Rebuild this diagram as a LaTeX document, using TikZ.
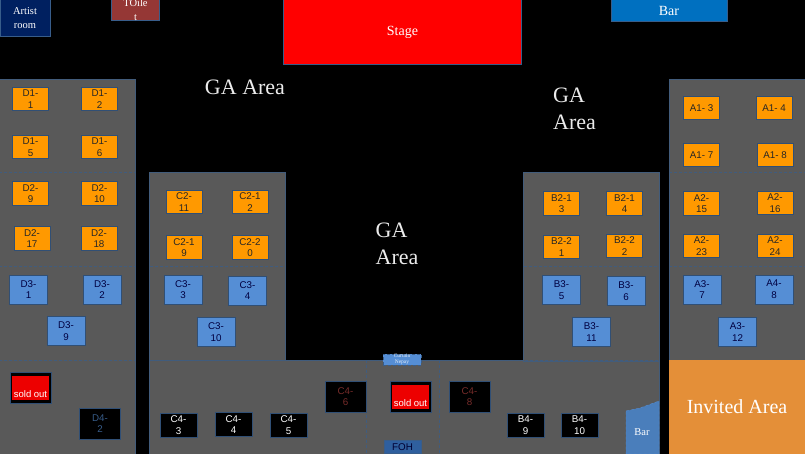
\documentclass[tikz,border=0pt]{standalone}
\usepackage{fontspec}
\setmainfont{Liberation Serif}
\setsansfont{Liberation Sans}
\definecolor{zonegray}{HTML}{595959}
\definecolor{tileedge}{HTML}{385D8A}
\definecolor{tileorange}{HTML}{FF9900}
\definecolor{tileblue}{HTML}{558ED5}
\definecolor{artistblue}{HTML}{002060}
\definecolor{toiletred}{HTML}{953735}
\definecolor{barblue}{HTML}{0070C0}
\definecolor{fohblue}{HTML}{2F5F9E}
\definecolor{invitedorange}{HTML}{E48F38}
\definecolor{lowbarblue}{HTML}{4A7EBB}
\newcommand{\soldlabel}{\raisebox{-9pt}[0pt][0pt]{sold out}}
\tikzset{
  zone/.style={draw=tileedge!70!zonegray, line width=0.4pt, fill=zonegray},
  zoneline/.style={draw=tileedge!75!zonegray, densely dashed, line width=0.5pt},
  tile/.style={draw=tileedge!85!black, line width=0.6pt, align=center, inner sep=0pt,
               font=\sffamily\fontsize{9.8}{11.7}\selectfont},
  orangetile/.style={tile, fill=tileorange, minimum width=36pt, minimum height=23.5pt, text=black!85},
  bluetile/.style={tile, fill=tileblue, minimum width=38pt, minimum height=29pt, text=black!75!blue},
  blacktile/.style={tile, fill=black, minimum width=37pt, minimum height=24pt, text=white},
  dimtile/.style={tile, fill=black, minimum width=41pt, minimum height=31pt},
  soldtile/.style={tile, fill=black, minimum width=41pt, minimum height=31pt},
  soldfill/.style={fill=red!93!black, minimum width=37pt, minimum height=24pt, inner sep=0pt,
                   text=white, font=\sffamily\fontsize{9.5}{11.7}\selectfont, align=center},
  room/.style={draw=tileedge, line width=1pt, align=center, inner sep=0pt, text=white,
               font=\fontsize{10.5}{14}\selectfont},
  areatext/.style={text=white!92!black, align=left, inner sep=0pt, font=\fontsize{22}{27}\selectfont},
}
\begin{document}
\begin{tikzpicture}[x=1pt, y=-1pt]
\useasboundingbox (0,0) rectangle (805,454);
\fill[black] (0,0) rectangle (805,454);

% seating blocks
\draw[zone] (-1,79) rectangle (135.5,455);
\draw[zone] (149.5,172.5) rectangle (285,361);
\draw[zone] (149.5,360) rectangle (659,455);
\draw[zone] (523.5,172.5) rectangle (659,361);
\draw[zone] (669,79) rectangle (806,361);
\foreach \xa/\xb/\ya in {-1/135.5/172.5, -1/135.5/266, 149.5/285/266, 523.5/659/266,
                         669/806/172.5, 669/806/266, -1/135.5/360, 149.5/659/360}
  \draw[zoneline] (\xa,\ya) -- (\xb,\ya);
\draw[zoneline] (366,360) -- (366,454);
\draw[zoneline] (439,360) -- (439,454);

% rooms along the top
\node[room, fill=artistblue, minimum width=50pt, minimum height=37pt] (artist) at (25,18.5) {Artist\\room};
\node[room, fill=toiletred, minimum width=48pt, minimum height=20pt] (toilet) at (135.5,10) {TOile\\t};
\node[room, fill=red, minimum width=238pt, minimum height=65pt, font=\fontsize{14}{16}\selectfont] (stage) at (402.5,32.5) {\raisebox{-2pt}{Stage}};
\node[room, fill=barblue, minimum width=116pt, minimum height=22pt, font=\fontsize{14}{16}\selectfont] (bar) at (669,11) {Bar};

\node[areatext] (gatop) at (245,87) {GA Area};
\node[areatext] (garight) at (574.5,108.5) {GA\\Area};
\node[areatext] (gamid) at (397,244) {GA\\Area};

% orange tables
\foreach \id/\xa/\ya/\lab in {d11/30.5/99/D1-\\1, d12/99.5/99/D1-\\2, d15/30.5/147/D1-\\5, d16/99.5/147/D1-\\6,
    d29/30.5/193.5/D2-\\9, d210/99.5/193.5/D2-\\10, d217/32/238.5/D2-\\17, d218/99/238.5/D2-\\18,
    c211/184/202/C2-\\11, c212/250/202/C2-1\\2, c219/184/247.5/C2-1\\9, c220/250/247.5/C2-2\\0,
    b213/561.5/203.5/B2-1\\3, b214/624.5/203.5/B2-1\\4, b221/561.5/247/B2-2\\1, b222/624.5/246/B2-2\\2,
    a215/701.5/203.5/A2-\\15, a216/775/203/A2-\\16, a223/701.5/246/A2-\\23, a224/775/246/A2-\\24,
    a13/701.5/108/A1- 3, a14/774/108/A1- 4, a17/701.5/155/A1- 7, a18/775/155/A1- 8}
  \node[orangetile] (\id) at (\xa,\ya) {\lab};

% blue tables
\foreach \id/\xa/\ya/\lab in {d31/28.5/289.5/D3-\\1, d32/102/289.5/D3-\\2, d39/66/331/D3-\\9,
    c33/183/289.5/C3-\\3, c34/247.5/290.5/C3-\\4, c310/216/332/C3-\\10,
    b35/561.5/290/B3-\\5, b36/626/291/B3-\\6, b311/591.5/332/B3-\\11,
    a37/702/289.5/A3-\\7, a48/774/289.5/A4-\\8, a312/737.5/332/A3-\\12}
  \node[bluetile] (\id) at (\xa,\ya) {\lab};

% black tables
\foreach \id/\xa/\ya/\lab in {c43/178.5/425/C4-\\3, c44/233.5/424.5/C4-\\4, c45/288.5/425/C4-\\5,
    b49/525.5/425/B4-\\9, b410/579.5/425/B4-\\10}
  \node[blacktile] (\id) at (\xa,\ya) {\lab};
\node[dimtile, text=tileedge] (d42) at (100,423.5) {D4-\\2};
\node[dimtile, text=toiletred!80!black] (c46) at (345.5,396.5) {C4-\\6};
\node[dimtile, text=toiletred!80!black] (c48) at (469.5,396.5) {C4-\\8};

% sold out
\node[soldtile] (d41) at (30.5,387.5) {};
\node[soldfill] (d41sold) at (30.5,388) {\soldlabel};
\node[soldtile] (c47) at (410.5,396.5) {};
\node[soldfill] (c47sold) at (410.5,397) {\soldlabel};

% bottom of the hall
\node[draw=tileedge, densely dashed, fill=tileblue, minimum width=38pt, minimum height=11pt, inner sep=0pt,
      align=center, text=white!85!tileblue, font=\fontsize{5.5}{6}\selectfont] (curtain) at (402,359.5) {Curtain\\Nepay};
\node[fill=fohblue, draw=tileedge, minimum width=37pt, minimum height=13pt, inner sep=0pt,
      text=black!80!blue, font=\sffamily\fontsize{9.8}{11}\selectfont] (foh) at (402.5,447) {FOH};
\draw[draw=tileblue, densely dashed, fill=lowbarblue] (626,411) -- (640,408) -- (659,401) -- (659,454) -- (626,454) -- cycle;
\node[text=white, inner sep=0pt, font=\fontsize{10.5}{12}\selectfont] (barlow) at (642,432) {Bar};

\node[fill=invitedorange, minimum width=136pt, minimum height=94pt,
      inner sep=0pt, text=white, font=\fontsize{20}{24}\selectfont] (invited) at (737,407) {Invited Area};
\end{tikzpicture}
\end{document}
